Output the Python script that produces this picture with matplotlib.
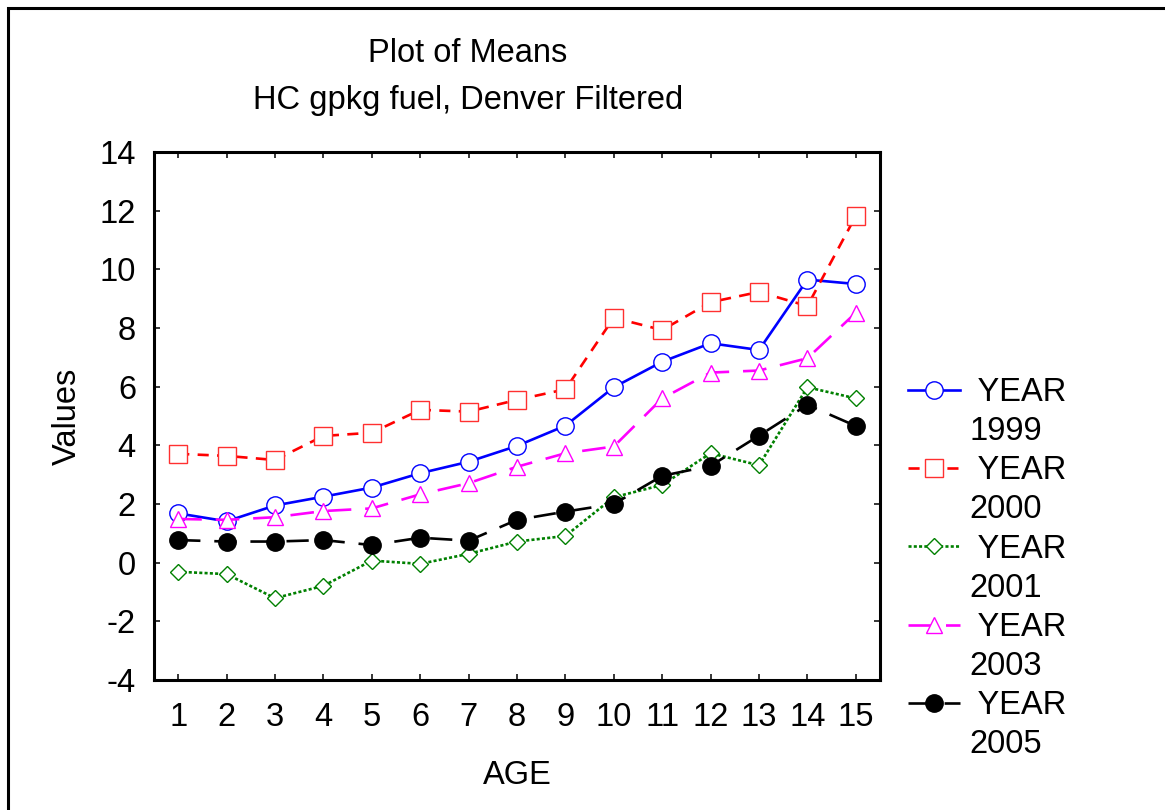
import matplotlib
matplotlib.use("Agg")
import matplotlib.pyplot as plt
from matplotlib.lines import Line2D
from matplotlib.patches import Rectangle

plt.rcParams['font.family'] = ['Liberation Sans', 'DejaVu Sans']
plt.rcParams['lines.scale_dashes'] = False
plt.rcParams['axes.unicode_minus'] = False

ages = list(range(1, 16))
y1999 = [1.68, 1.41, 1.95, 2.25, 2.56, 3.05, 3.44, 3.98, 4.67, 5.98, 6.85, 7.48, 7.25, 9.65, 9.50]
y2000 = [3.71, 3.64, 3.50, 4.32, 4.43, 5.21, 5.15, 5.55, 5.91, 8.35, 7.93, 8.88, 9.23, 8.75, 11.82]
y2001 = [-0.31, -0.39, -1.21, -0.79, 0.07, -0.04, 0.30, 0.72, 0.91, 2.23, 2.65, 3.73, 3.32, 5.98, 5.60]
y2003 = [1.49, 1.46, 1.55, 1.76, 1.85, 2.33, 2.71, 3.27, 3.73, 3.96, 5.60, 6.48, 6.55, 6.97, 8.52]
y2005 = [0.77, 0.72, 0.72, 0.77, 0.60, 0.85, 0.75, 1.46, 1.74, 2.00, 2.96, 3.30, 4.33, 5.38, 4.66]
years = ["1999", "2000", "2001", "2003", "2005"]
yticks = list(range(-4, 15, 2))

W, H = 1165, 810
FS = 23.5
fig = plt.figure(figsize=(W / 100, H / 100), dpi=100)
ax = fig.add_axes([154 / W, 1 - 680 / H, (880 - 154) / W, (680 - 152) / H])

styles = [
    dict(color='#0000ff', linestyle='-', marker='o', ms=12.5, mfc='white', mec='#0000ff'),
    dict(color='#ff0000', linestyle=(0, (8, 6)), marker='s', ms=12.5, mfc='white', mec='#ff3030'),
    dict(color='#008000', linestyle=(0, (2.2, 1.6)), marker='D', ms=7.8, mfc='white', mec='#008000'),
    dict(color='#ff00ff', linestyle=(0, (17, 10)), marker='^', ms=11.2, mfc='white', mec='#ff00ff'),
    dict(color='#000000', linestyle=(0, (16, 10)), marker='o', ms=12.5, mfc='black', mec='black'),
]
series = [y1999, y2000, y2001, y2003, y2005]

handles = []
labels = []
for yr, vals, st in zip(years, series, styles):
    ln, = ax.plot(ages, vals, lw=1.9, mew=1.0, **st)
    handles.append(ln)
    labels.append(" YEAR")
    handles.append(Line2D([], [], linestyle='none', marker=None, color='none'))
    labels.append(yr)

ax.set_xlim(0.5, 15.5)
ax.set_ylim(-4, 14)
ax.set_xticks(ages)
ax.set_yticks(yticks)
ax.tick_params(direction='in', length=4.3, width=1.1, top=True, right=True,
               labelsize=FS, pad=13)
ax.tick_params(axis='x', pad=16)
for sp in ax.spines.values():
    sp.set_linewidth(2.2)

ax.set_xlabel("AGE", fontsize=FS)
ax.xaxis.set_label_coords(0.5, -0.152)
ax.set_ylabel("Values", fontsize=FS)
ax.yaxis.set_label_coords((83 - 154) / 726, 0.5)

fig.text(468 / W, 1 - 62 / H, "Plot of Means", ha='center', va='baseline', fontsize=FS)
fig.text(468 / W, 1 - 109 / H, "HC gpkg fuel, Denver Filtered", ha='center', va='baseline', fontsize=FS)

leg = fig.legend(handles, labels, loc='upper left', bbox_to_anchor=(908 / W, 1 - 377 / H),
                 frameon=False, fontsize=FS, borderpad=0, borderaxespad=0,
                 handlelength=1.6, handletextpad=0.28, labelspacing=0.25)

fig.patches.append(Rectangle((8 / W, -0.2), 2.0, (1 - 8 / H) + 0.2, fill=False,
                             lw=2.2, edgecolor='black', transform=fig.transFigure,
                             figure=fig))

fig.savefig("out.png", dpi=100)
